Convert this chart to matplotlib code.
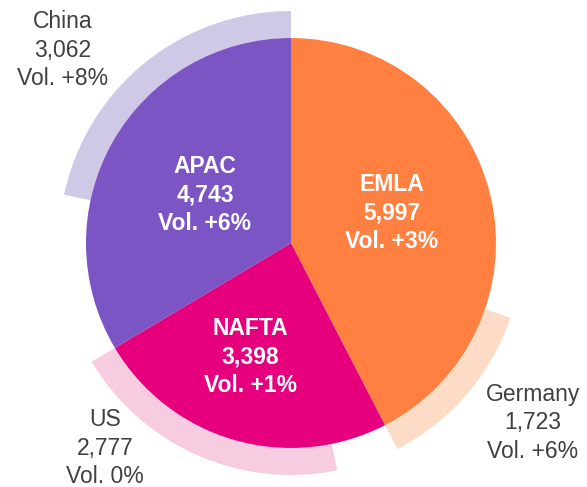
import matplotlib.pyplot as plt
from matplotlib.patches import Wedge

plt.rcParams["font.family"] = ["Liberation Sans", "DejaVu Sans"]

# regions (clockwise from 12 o'clock)
regions = ["EMLA", "NAFTA", "APAC"]
region_values = [5997, 3398, 4743]
region_vol = ["+3%", "+1%", "+6%"]

# one country per region, drawn as an outer band at the end of its region
countries = ["Germany", "US", "China"]
country_values = [1723, 2777, 3062]
country_vol = ["+6%", "0%", "+8%"]

dark = ["#FF8040", "#E6007E", "#7B55C4"]
light = ["#FDDCC7", "#F7CBE0", "#CFC8E6"]

W, H = 587, 487
cx, cy, R = 291, H - 243, 205
band_in, band_out = R, R + 27

fig = plt.figure(figsize=(W / 100, H / 100), dpi=100)
ax = fig.add_axes([0, 0, 1, 1])

ax.pie(region_values, colors=dark, startangle=90, counterclock=False,
       radius=R, center=(cx, cy), frame=True,
       wedgeprops=dict(linewidth=0, antialiased=True))
ax.set_xlim(0, W)
ax.set_ylim(0, H)
ax.set_aspect("equal")
ax.axis("off")

total = sum(region_values)
ang = 90.0
for val, cval, col in zip(region_values, country_values, light):
    end = ang - 360.0 * val / total
    start = end + 360.0 * cval / total
    ax.add_patch(Wedge((cx, cy), band_out, end, start,
                       width=band_out - band_in, facecolor=col,
                       linewidth=0, zorder=0))
    ang = end

inner_pos = [(392, 213), (250, 357), (205, 195)]
for name, val, vol, (x, y) in zip(regions, region_values, region_vol, inner_pos):
    ax.text(x, H - y, f"{name}\n{val:,}\nVol. {vol}", ha="center", va="center",
            color="white", fontsize=16.5, fontweight="bold", linespacing=1.3)

outer_pos = [(533, 423), (105, 448), (63, 50)]
for name, val, vol, (x, y) in zip(countries, country_values, country_vol, outer_pos):
    ax.text(x, H - y, f"{name}\n{val:,}\nVol. {vol}", ha="center", va="center",
            color="#404040", fontsize=16.5, linespacing=1.3)

fig.savefig("out.png", dpi=100)
